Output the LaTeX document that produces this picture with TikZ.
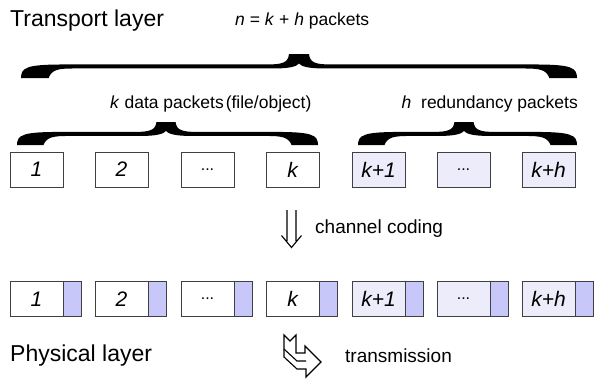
\documentclass[tikz,border=0pt]{standalone}
\usepackage{fontspec}
\setmainfont{Liberation Sans}
\usetikzlibrary{positioning}

\newlength{\du}
\setlength{\du}{1pt}

\definecolor{boxline}{rgb}{0.25,0.25,0.25}
\definecolor{redfill}{rgb}{0.925,0.925,0.980}
\definecolor{stubfill}{rgb}{0.780,0.780,0.980}

\tikzset{
  pkt/.style={draw=boxline, line width=0.9\du, fill=white, minimum width=53\du,
    minimum height=35\du, inner sep=0pt, font=\fontsize{21}{24}\selectfont\itshape},
  redpkt/.style={pkt, fill=redfill},
  dotpkt/.style={font=\fontsize{16}{18}\selectfont},
  stub/.style={draw=boxline, line width=0.9\du, fill=stubfill, minimum width=18\du,
    minimum height=35\du, inner sep=0pt},
  layer/.style={anchor=west, inner sep=0pt, font=\fontsize{23}{27}\selectfont},
  note/.style={anchor=west, inner sep=0pt, font=\fontsize{17.5}{21}\selectfont},
  small/.style={anchor=west, inner sep=0pt, font=\fontsize{19}{22}\selectfont},
}

% filled curly brace: x left, x right, x tip, y tip, y ends
\newcommand{\curlybrace}[5]{%
  \pgfmathsetmacro{\ym}{#4+0.52*(#5-#4)}
  \pgfmathsetmacro{\tw}{0.8*(\ym-#4)}
  \pgfmathsetmacro{\fl}{2.4*(#5-\ym)}
  \fill ({#3-\tw},#4) -- ({#3+\tw},#4)
    .. controls ({#3+\tw+1},{\ym-4}) and ({#3+\tw+6},{\ym-2}) .. ({#3+\tw+22},{\ym-2})
    -- ({#2-\fl-15},{\ym-2})
    .. controls ({#2-6},{\ym-2}) and (#2,{\ym+1}) .. (#2,#5)
    -- ({#2-\fl},#5)
    .. controls ({#2-\fl-3},{\ym+3}) and ({#2-\fl-10},{\ym+2}) .. ({#2-\fl-25},{\ym+2})
    -- ({#3+25},{\ym+2})
    .. controls ({#3+10},{\ym+2}) and ({#3+2},{\ym}) .. (#3,{\ym-3})
    .. controls ({#3-2},{\ym}) and ({#3-10},{\ym+2}) .. ({#3-25},{\ym+2})
    -- ({#1+\fl+25},{\ym+2})
    .. controls ({#1+\fl+10},{\ym+2}) and ({#1+\fl+3},{\ym+3}) .. ({#1+\fl},#5)
    -- (#1,#5)
    .. controls (#1,{\ym+1}) and ({#1+6},{\ym-2}) .. ({#1+\fl+15},{\ym-2})
    -- ({#3-\tw-22},{\ym-2})
    .. controls ({#3-\tw-6},{\ym-2}) and ({#3-\tw-1},{\ym-4}) .. ({#3-\tw},#4)
    -- cycle;}

\begin{document}
\begin{tikzpicture}[x=\du, y=-\du]
\useasboundingbox (0,0) rectangle (595,378);

% headings
\node[layer] (transport) at (10,21) {Transport layer};
\node[note] (ntotal) at (235,21) {\textit{n} = \textit{k} + \textit{h} packets};

% braces
\curlybrace{21}{577}{299}{54}{78}
\node[note] (kdata) at (110,104) {\textit{k} data packets\kern2pt(file/object)};
\node[note, anchor=east] (hred) at (578,104) {\textit{h}\ \ redundancy packets};
\curlybrace{17}{318}{166}{122}{145}
\curlybrace{358}{577}{464}{122}{145}

% transport layer packets
\node[pkt] (d1) at (36.5,169.5) {1};
\node[pkt] (d2) at (121.5,169.5) {2};
\node[pkt, dotpkt] (d3) at (207.5,169.5) {...};
\node[pkt] (dk) at (292.5,169.5) {k};
\node[redpkt] (r1) at (378.5,169.5) {k+1};
\node[redpkt, dotpkt] (r2) at (463.5,169.5) {...};
\node[redpkt] (rh) at (548.5,169.5) {k+h};

% channel coding
\draw[line width=1.1\du] (287,210) -- (287,241) (296,210) -- (296,241)
  (281.5,235.5) -- (291.5,247.5) -- (301.5,235.5);
\node[small] (coding) at (315,229) {channel coding};

% physical layer packets
\node[pkt] (c1) at (36.5,299) {1};
\node[pkt] (c2) at (121.5,299) {2};
\node[pkt, dotpkt] (c3) at (207.5,299) {...};
\node[pkt] (ck) at (292.5,299) {k};
\node[redpkt] (s1) at (378.5,299) {k+1};
\node[redpkt, dotpkt] (s2) at (463.5,299) {...};
\node[redpkt] (sh) at (548.5,299) {k+h};
\node[stub, right=0pt of c1] (c1b) {};
\node[stub, right=0pt of c2] (c2b) {};
\node[stub, right=0pt of c3] (c3b) {};
\node[stub, right=0pt of ck] (ckb) {};
\node[stub, right=0pt of s1] (s1b) {};
\node[stub, right=0pt of s2] (s2b) {};
\node[stub, right=0pt of sh] (shb) {};

% transmission
\node[layer] (physical) at (10,356) {Physical layer};
\draw[line width=1.1\du, fill=white, line join=miter]
  (284,335) -- (290,341) -- (296,335) -- (296,353) -- (305,353) -- (305,346)
  -- (321,362) -- (306,377) -- (306,369) -- (297,369) -- (284,357) -- cycle;
\draw[line width=1.1\du] (284,349) -- (297,361) -- (306,361);
\node[small] (transmit) at (345,356) {transmission};
\end{tikzpicture}
\end{document}
